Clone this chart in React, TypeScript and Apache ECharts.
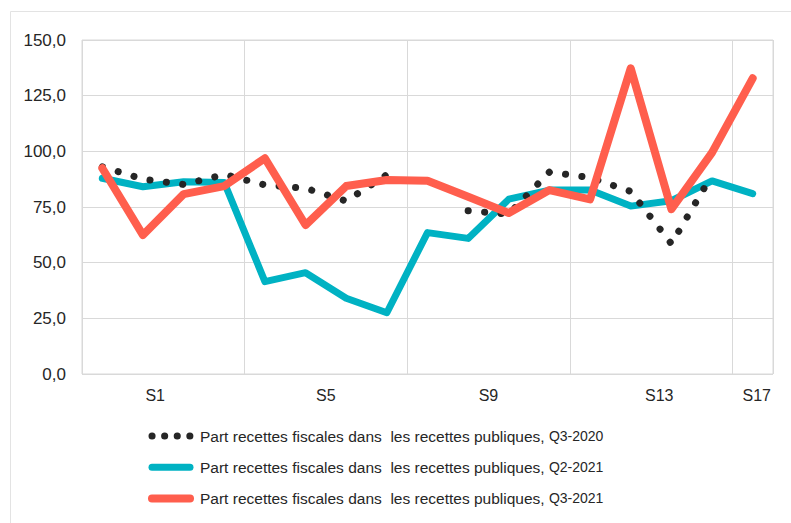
import React, { useEffect, useRef } from "react";
import * as echarts from "echarts";

// ---- data ----
const categories = [
  "S1", "S2", "S3", "S4", "S5", "S6", "S7", "S8", "S9",
  "S10", "S11", "S12", "S13", "S14", "S15", "S16", "S17",
];
const xTickLabels = ["S1", "S5", "S9", "S13", "S17"];
const yTickValues = [0, 25, 50, 75, 100, 125, 150];

const seriesNames = [
  "Part recettes fiscales dans  les recettes publiques, Q3-2020",
  "Part recettes fiscales dans  les recettes publiques, Q2-2021",
  "Part recettes fiscales dans  les recettes publiques, Q3-2021",
];

const q3_2020: (number | null)[] = [
  93.0, 87.5, 85.1, 89.6, 84.9, 83.4, 77.7, 89.5, null,
  73.3, 71.8, 90.7, 88.2, 82.0, 58.5, 89.4, null,
];
const q2_2021 = [
  87.9, 84.1, 86.3, 86.0, 41.5, 45.5, 34.0, 27.5, 63.5,
  60.9, 78.5, 82.6, 82.6, 75.4, 77.8, 86.7, 81.0,
];
const q3_2021 = [
  92.4, 62.4, 80.8, 84.4, 96.9, 66.9, 84.4, 87.1, 86.8,
  79.6, 72.3, 82.6, 78.4, 137.3, 74.0, 99.4, 132.8,
];

// ---- style ----
const FONT = "'Liberation Sans', Arial, Helvetica, sans-serif";
const TEXT = "#262626";
const GRID = "#d9d9d9";
const TEAL = "#00B2C3";
const RED = "#FF5E4D";
const DOT = "#262626";

// label axis: 5 sub-slots per category band (boundaryGap false), labels placed at chosen slots
const SUB = 5;
const labelSlots = [9, 30, 50, 71, 83];
const labelAxisData: string[] = Array.from(
  { length: categories.length * SUB + 1 },
  () => ""
);
xTickLabels.forEach((t, i) => {
  labelAxisData[labelSlots[i]] = t;
});

const hiddenSymbol = { color: "rgba(0,0,0,0)", borderWidth: 0, borderColor: "rgba(0,0,0,0)" };

export default function App() {
  const ref = useRef<HTMLDivElement>(null);

  useEffect(() => {
    if (!ref.current) return;
    const chart = echarts.init(ref.current, undefined, { renderer: "svg" });
    chart.setOption({
      animation: false,
      backgroundColor: "#ffffff",
      textStyle: { fontFamily: FONT },
      graphic: [
        {
          type: "rect",
          shape: { x: 10.5, y: 11.5, width: 900, height: 900 },
          style: { fill: "none", stroke: "#e3e3e3", lineWidth: 1 },
          silent: true,
          z: -10,
        },
      ],
      grid: {
        left: 82,
        right: 18,
        top: 40,
        bottom: 149,
        show: true,
        borderColor: GRID,
        borderWidth: 1,
        backgroundColor: "transparent",
      },
      legend: {
        orient: "vertical",
        left: 148,
        top: 428,
        padding: 0,
        itemWidth: 38,
        itemHeight: 16,
        itemGap: 15.2,
        selectedMode: false,
        textStyle: {
          fontFamily: FONT,
          fontSize: 15.5,
          lineHeight: 16,
          color: TEXT,
          padding: [0, 0, 0, 5],
          rich: {
            a: { fontFamily: FONT, fontSize: 15.5, lineHeight: 16, color: TEXT },
            b: { fontFamily: FONT, fontSize: 14, lineHeight: 16, color: TEXT },
          },
        },
        formatter: (name: string) => {
          const k = name.lastIndexOf(", ");
          return `{a|${name.slice(0, k + 2)}}{b|${name.slice(k + 2)}}`;
        },
        data: [
          {
            name: seriesNames[0],
            itemStyle: hiddenSymbol,
            lineStyle: { width: 7, type: [0.1, 12.5], cap: "round", color: DOT },
          },
          {
            name: seriesNames[1],
            itemStyle: hiddenSymbol,
            lineStyle: { width: 7, cap: "round", color: TEAL },
          },
          {
            name: seriesNames[2],
            itemStyle: hiddenSymbol,
            lineStyle: { width: 8, cap: "round", color: RED },
          },
        ],
      },
      xAxis: [
        {
          type: "category",
          data: categories,
          boundaryGap: true,
          axisLine: { show: false },
          axisTick: { show: false, interval: 3 },
          axisLabel: { show: false },
          splitLine: {
            show: true,
            interval: 3,
            lineStyle: { color: GRID, width: 1 },
          },
        },
        {
          type: "category",
          data: labelAxisData,
          position: "bottom",
          boundaryGap: false,
          axisLine: { show: false },
          axisTick: { show: false },
          splitLine: { show: false },
          axisLabel: {
            show: true,
            interval: 0,
            margin: 13,
            fontFamily: FONT,
            fontSize: 16,
            color: TEXT,
          },
        },
      ],
      yAxis: {
        type: "value",
        min: yTickValues[0],
        max: yTickValues[yTickValues.length - 1],
        interval: yTickValues[1] - yTickValues[0],
        axisLine: { show: false },
        axisTick: { show: false },
        splitLine: { show: true, lineStyle: { color: GRID, width: 1 } },
        axisLabel: {
          margin: 16,
          fontFamily: FONT,
          fontSize: 17,
          color: TEXT,
          formatter: (v: number) => v.toFixed(1).replace(".", ","),
        },
      },
      series: [
        {
          name: seriesNames[1],
          type: "line",
          xAxisIndex: 0,
          data: q2_2021,
          symbol: "none",
          z: 2,
          lineStyle: { color: TEAL, width: 7, cap: "round", join: "round" },
          itemStyle: { color: TEAL },
        },
        {
          name: seriesNames[0],
          type: "line",
          xAxisIndex: 0,
          data: q3_2020,
          symbol: "none",
          connectNulls: false,
          z: 3,
          lineStyle: {
            color: DOT,
            width: 7,
            type: [0.1, 16.4],
            cap: "round",
            join: "round",
          },
          itemStyle: { color: DOT },
        },
        {
          name: seriesNames[2],
          type: "line",
          xAxisIndex: 0,
          data: q3_2021,
          symbol: "none",
          z: 4,
          lineStyle: { color: RED, width: 8, cap: "round", join: "round" },
          itemStyle: { color: RED },
        },
      ],
    });
    return () => chart.dispose();
  }, []);

  return (
    <div
      ref={ref}
      style={{ position: "absolute", left: 0, top: 0, width: 791, height: 523 }}
    />
  );
}
